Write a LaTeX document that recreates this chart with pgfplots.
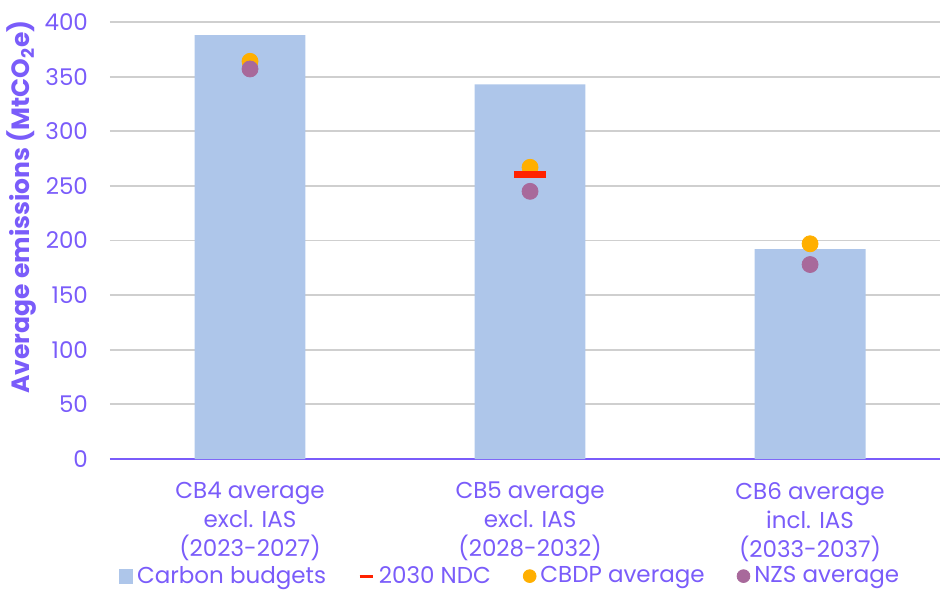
\documentclass[border=0pt]{standalone}
\usepackage{fontspec}
\setmainfont{Poppins}
\usepackage{pgfplots}
\pgfplotsset{compat=1.18}
\usetikzlibrary{calc}

\definecolor{txt}{HTML}{7A5CFA}
\definecolor{barc}{HTML}{AEC6EA}
\definecolor{ndc}{HTML}{FF2200}
\definecolor{cbdp}{HTML}{FFAF00}
\definecolor{nzs}{HTML}{A8699B}
\definecolor{gridc}{HTML}{CFCFCF}

\begin{document}
\begin{tikzpicture}
\begin{axis}[
    scale only axis,
    width=415pt, height=218.5pt,
    xmin=-0.5, xmax=2.464,
    ymin=0, ymax=400,
    ytick={0,50,...,400},
    xtick={0,1,2},
    xticklabels={{CB4 average\\excl. IAS\\(2023-2027)},
                 {CB5 average\\excl. IAS\\(2028-2032)},
                 {CB6 average\\incl. IAS\\(2033-2037)}},
    extra x ticks={-0.5,0.5,1.5,2.5},
    extra x tick labels={},
    extra x tick style={major tick length=4pt, tick align=outside,
        tick style={draw=txt, line width=0.9pt}},
    xtick style={draw=none},
    ytick style={draw=none},
    axis x line*=bottom, axis y line*=left,
    y axis line style={draw=none},
    x axis line style={draw=txt, line width=0.9pt, -},
    ymajorgrids, grid style={gridc, line width=0.9pt},
    /pgf/number format/assume math mode=true,
    tick label style={font=\fontsize{11.5}{14.5}\selectfont, text=txt},
    x tick label style={align=center, yshift=-8pt},
    y tick label style={xshift=-7.5pt},
    ylabel={\bfseries Average emissions (MtCO\textsubscript{2}e)},
    ylabel style={font=\fontsize{12.5}{14}\selectfont, text=txt,
        at={(axis description cs:-0.106,0.577)}, anchor=center},
    legend style={draw=none, fill=none, at={(0.483,-0.268)}, anchor=center,
        font=\fontsize{11.5}{13}\selectfont, text=txt,
        /tikz/every even column/.append style={column sep=14pt}},
    legend columns=4,
]
\addlegendimage{legend image code/.code={\fill[barc] (0.2cm,-0.12cm) rectangle (0.44cm,0.12cm);}}
\addlegendentry{Carbon budgets}
\addlegendimage{legend image code/.code={\draw[ndc, line width=1.6pt] (0.2cm,0cm) -- (0.44cm,0cm);}}
\addlegendentry{2030 NDC}
\addlegendimage{legend image code/.code={\fill[cbdp] (0.32cm,0cm) circle (3.2pt);}}
\addlegendentry{CBDP average}
\addlegendimage{legend image code/.code={\fill[nzs] (0.32cm,0cm) circle (3.2pt);}}
\addlegendentry{NZS average}

\addplot[ybar, bar width=0.396, fill=barc, draw=none, forget plot]
    coordinates {(0,388) (1,343) (2,192)};
\addplot[only marks, color=cbdp, mark=*, mark size=4pt, mark options={draw=cbdp, fill=cbdp}, forget plot]
    coordinates {(0,364) (1,267) (2,197)};
\addplot[only marks, color=ndc, mark=-, mark size=8pt, mark options={draw=ndc, line width=3.5pt}, forget plot]
    coordinates {(1,260)};
\addplot[only marks, color=nzs, mark=*, mark size=4pt, mark options={draw=nzs, fill=nzs}, forget plot]
    coordinates {(0,357) (1,245) (2,178)};
\end{axis}
\pgfresetboundingbox
\path[use as bounding box] ($(current axis.south west)+(-55pt,-65pt)$) rectangle ($(current axis.north east)+(0pt,11pt)$);
\end{tikzpicture}
\end{document}
